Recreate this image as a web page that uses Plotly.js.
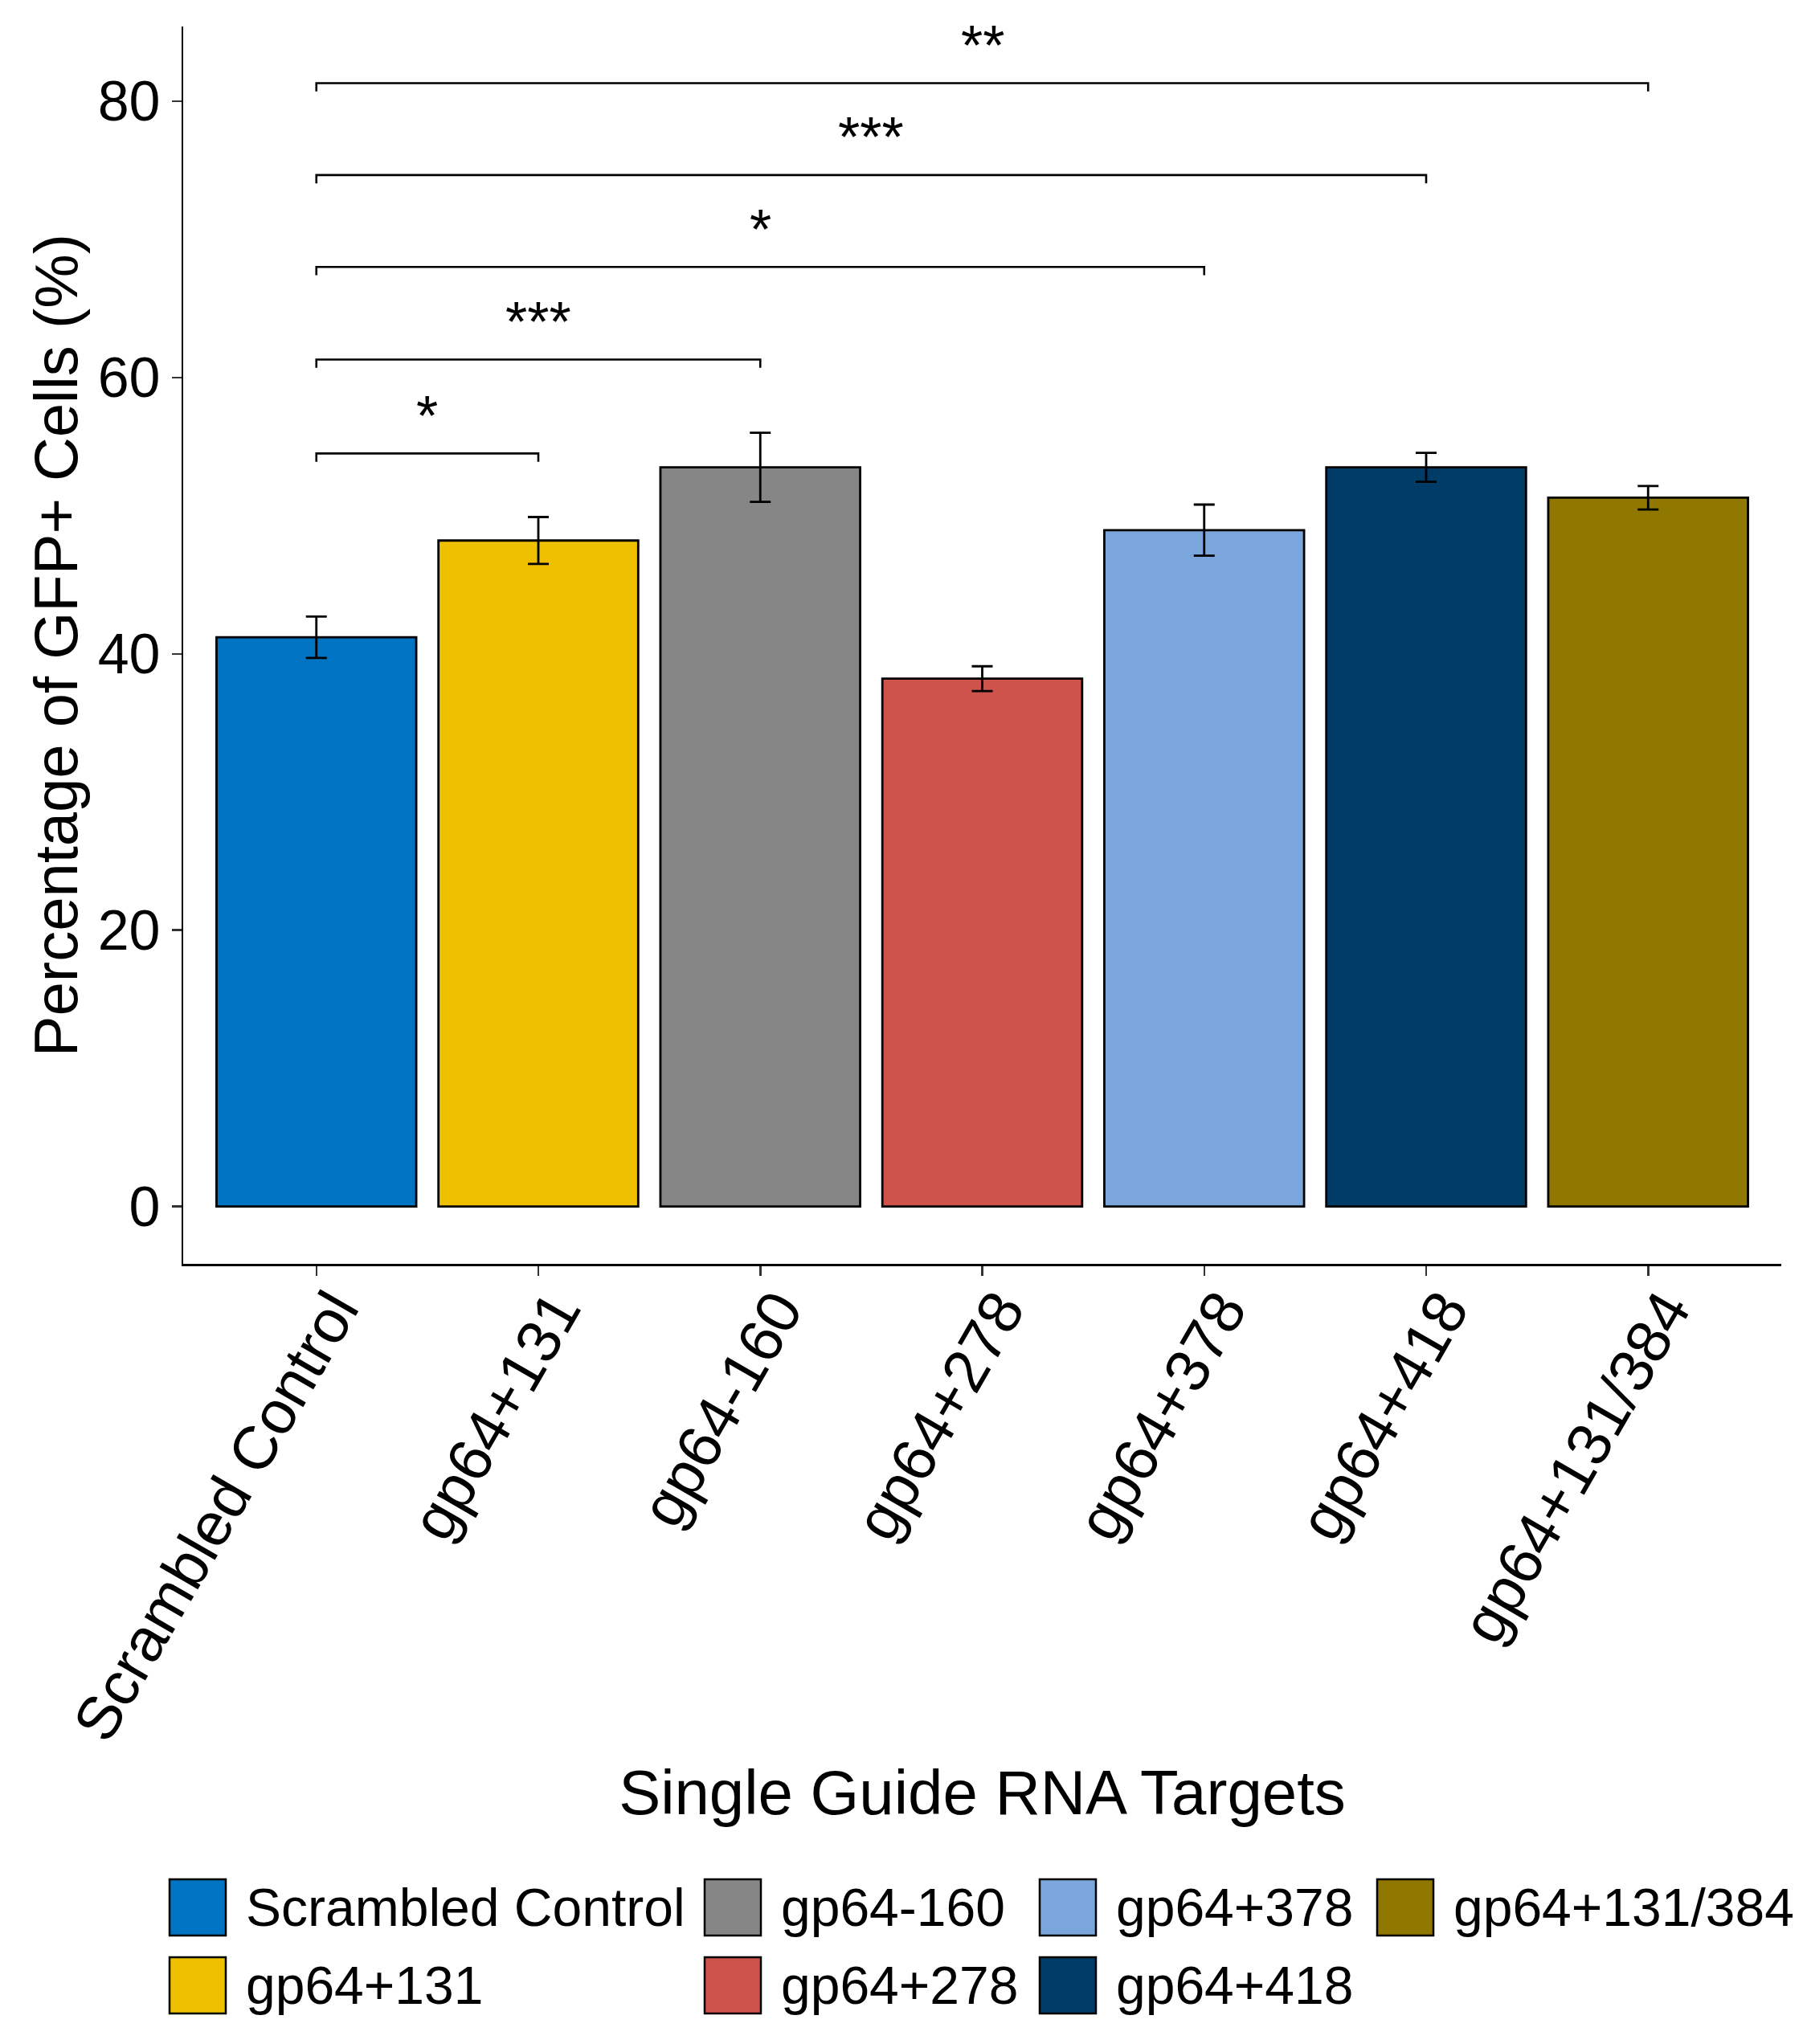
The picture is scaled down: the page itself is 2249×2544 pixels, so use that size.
<!DOCTYPE html>
<html>
<head>
<meta charset="utf-8">
<script src="https://cdn.plot.ly/plotly-3.0.1.min.js"></script>
<style>html,body{margin:0;padding:0;background:#fff;}#chart{width:2249px;height:2544px;}</style>
</head>
<body>
<div id="chart"></div>
<script>
// ---- data ----
var categories = ["Scrambled Control", "gp64+131", "gp64-160", "gp64+278", "gp64+378", "gp64+418", "gp64+131/384"];
var means = [41.2, 48.2, 53.5, 38.2, 48.95, 53.5, 51.3];
var sems = [1.5, 1.7, 2.5, 0.9, 1.85, 1.05, 0.85];
var colors = ["#0073C2", "#EFC000", "#868686", "#CD534C", "#7AA6DC", "#003C67", "#8F7700"];
// significance comparisons: each against the control (index 0)
var compTargets = [1, 2, 4, 5, 6];
var compLevels = [54.5, 61.3, 68.0, 74.65, 81.3];
var compLabels = ["*", "***", "*", "***", "**"];
var yTicks = [0, 20, 40, 60, 80];

// ---- layout constants ----
var W = 2249, H = 2544;
var mL = 228, mR = 32, mT = 33, mB = 971;
var plotW = W - mL - mR, plotH = H - mT - mB;
var FONT = "Liberation Sans, Arial, Helvetica, sans-serif";
function px2paperX(px) { return (px - mL) / plotW; }
function px2paperY(py) { return (H - mB - py) / plotH; }

var traces = [];
traces.push({
  type: "bar",
  x: categories,
  y: means,
  width: 0.9,
  marker: { color: colors, line: { color: "#000000", width: 2.8 } },
  error_y: { type: "data", array: sems, visible: true, color: "#000000", thickness: 2.8, width: 13 },
  showlegend: false,
  hoverinfo: "x+y"
});

// brackets
var bx = [], by = [];
var tickDrop = 0.6;
for (var i = 0; i < compTargets.length; i++) {
  var a = categories[0], b = categories[compTargets[i]], L = compLevels[i];
  bx.push(a, a, b, b, null);
  by.push(L - tickDrop, L, L, L - tickDrop, null);
}
traces.push({
  type: "scatter", mode: "lines", x: bx, y: by,
  line: { color: "#000000", width: 2.6 }, connectgaps: false,
  showlegend: false, hoverinfo: "skip", cliponaxis: false
});

var annotations = [];
for (var i = 0; i < compTargets.length; i++) {
  annotations.push({
    x: (0 + compTargets[i]) / 2, y: compLevels[i] + 2.7, xref: "x", yref: "y",
    text: compLabels[i], showarrow: false, xanchor: "center", yanchor: "middle",
    font: { family: FONT, size: 70, color: "#000000" }
  });
}

// legend (column-major, two rows)
var shapes = [];
var legCols = [211, 877, 1294, 1714];
var legRows = [2339, 2436];
var sw = 70, textGap = 23;
for (var i = 0; i < categories.length; i++) {
  var c = Math.floor(i / 2), r = i % 2;
  var x0 = legCols[c], y0 = legRows[r];
  shapes.push({
    type: "rect", xref: "paper", yref: "paper",
    x0: px2paperX(x0), x1: px2paperX(x0 + sw),
    y0: px2paperY(y0), y1: px2paperY(y0 + sw),
    fillcolor: colors[i], line: { color: "#000000", width: 2.5 }
  });
  annotations.push({
    xref: "paper", yref: "paper", x: px2paperX(x0 + sw + textGap), y: px2paperY(y0 + sw / 2),
    xanchor: "left", yanchor: "middle", showarrow: false, text: categories[i],
    font: { family: FONT, size: 66, color: "#000000" }
  });
}

var layout = {
  width: W, height: H,
  margin: { l: mL, r: mR, t: mT, b: mB, pad: 0 },
  paper_bgcolor: "#ffffff", plot_bgcolor: "#ffffff",
  font: { family: FONT, color: "#000000" },
  barmode: "overlay",
  showlegend: false,
  xaxis: {
    type: "category", categoryorder: "array", categoryarray: categories,
    range: [-0.6, 6.6], showline: true, linecolor: "#000000", linewidth: 2.5,
    ticks: "outside", ticklen: 12, tickwidth: 2.5, tickcolor: "#333333",
    tickangle: -60, tickfont: { family: FONT, size: 76, color: "#000000" },
    ticklabelshift: 22, ticklabelstandoff: -32,
    showgrid: false, zeroline: false,
    title: { text: "Single Guide RNA Targets", font: { family: FONT, size: 78, color: "#000000" }, standoff: 24 }
  },
  yaxis: {
    range: [-4.15, 85.4], tickvals: yTicks, ticktext: yTicks.map(String),
    showline: true, linecolor: "#000000", linewidth: 2.5,
    ticks: "outside", ticklen: 12, tickwidth: 2.5, tickcolor: "#333333",
    tickfont: { family: FONT, size: 70, color: "#000000" },
    showgrid: false, zeroline: false,
    title: { text: "Percentage of GFP+ Cells (%)", font: { family: FONT, size: 76, color: "#000000" }, standoff: 0 }
  },
  shapes: shapes,
  annotations: annotations
};

Plotly.newPlot("chart", traces, layout, { staticPlot: true });
</script>
</body>
</html>
